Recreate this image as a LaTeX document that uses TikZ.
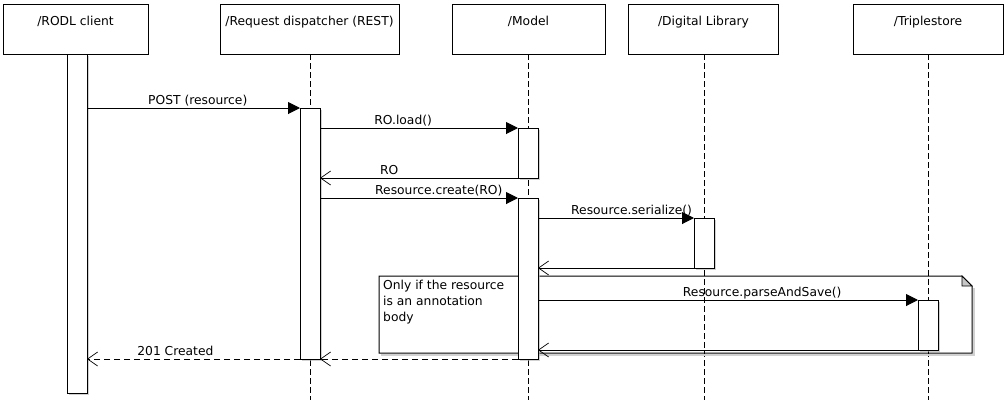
\documentclass[tikz,border=0pt]{standalone}
\usepackage{fontspec}
\setmainfont{DejaVu Sans}
\usetikzlibrary{arrows.meta,shadows}
\begin{document}
\begin{tikzpicture}[x=1pt,y=-1pt,
  every node/.style={font=\fontsize{12.3}{16}\selectfont},
  hdr/.style={draw, line width=1pt, minimum height=50pt, inner sep=0pt, outer sep=0pt},
  hlab/.style={anchor=base, yshift=-21pt, inner sep=0pt},
  act/.style={draw, fill=white, line width=1pt, minimum width=20pt, inner sep=0pt, outer sep=0pt, anchor=north,
    drop shadow={shadow xshift=2pt, shadow yshift=-2pt, fill=black!30, opacity=0.6}},
  life/.style={line width=0.9pt, dash pattern=on 6pt off 3pt},
  sync/.style={line width=1pt, -{Triangle[length=12pt,width=12pt]}},
  ret/.style={line width=1pt, -{Straight Barb[length=10pt,width=14pt,line width=0.7pt]}},
  retd/.style={ret, dash pattern=on 6pt off 4pt},
  mlab/.style={anchor=base, yshift=4pt, inner sep=0pt},
  shade/.style={fill=black!18}
]
\useasboundingbox (0,0) rectangle (1006,408);

% headers
\node[hdr, minimum width=145pt, label={[hlab]north:/RODL client}] (hc) at (75.5,29) {};
\node[hdr, minimum width=179pt, label={[hlab]north:/Request dispatcher (REST)}] (hd) at (309.5,29) {};
\node[hdr, minimum width=153pt, label={[hlab]north:/Model}] (hm) at (528.5,29) {};
\node[hdr, minimum width=150pt, label={[hlab]north:/Digital Library}] (hl) at (703.5,29) {};
\node[hdr, minimum width=150pt, label={[hlab]north:/Triplestore}] (ht) at (928,29) {};

% lifeline ends
\coordinate (ed) at (310,400);
\coordinate (em) at (528,400);
\coordinate (el) at (704,400);
\coordinate (et) at (928,400);
\draw[life] (hd.south -| ed) -- (ed);
\draw[life] (hm.south -| em) -- (em);
\draw[life] (hl.south -| el) -- (el);
\draw[life] (ht.south -| et) -- (et);

% note
\fill[shade] (972.5,288) rectangle (974.5,355.5);
\fill[shade] (381,353.5) rectangle (974.5,355.5);
\draw[line width=1pt] (379,276) -- (962,276) -- (972,286) -- (972,353) -- (379,353) -- cycle;
\filldraw[line width=0.8pt, fill=black!22] (962,276) -- (962,286) -- (972,286) -- cycle;
\node[anchor=north west, align=left, inner sep=0pt] (note) at (383,280)
  {Only if the resource\\is an annotation\\body};

% activations
\node[act, minimum height=339pt] (ac) at (77,54) {};
\node[act, minimum height=251pt] (ad) at (310,108) {};
\node[act, minimum height=50pt] (am1) at (528,128) {};
\node[act, minimum height=161pt] (am2) at (528,198) {};
\node[act, minimum height=50pt] (al) at (704,218) {};
\node[act, minimum height=50pt] (at) at (928,300) {};

% messages
\draw[sync] (ac.east |- ad.north) -- node[mlab, pos=0.52] {POST (resource)} (ad.north west);
\draw[sync] (ad.east |- am1.north) -- node[mlab, pos=0.42] {RO.load()} (am1.north west);
\draw[ret] (am1.south west) -- node[mlab, pos=0.65] {RO} (ad.east |- am1.south);
\draw[sync] (ad.east |- am2.north) -- node[mlab, pos=0.6] {Resource.create(RO)} (am2.north west);
\draw[sync] (am2.east |- al.north) -- node[mlab, pos=0.6] {Resource.serialize()} (al.north west);
\draw[ret] (al.south west) -- (am2.east |- al.south);
\draw[sync] (am2.east |- at.north) -- node[mlab, pos=0.59] {Resource.parseAndSave()} (at.north west);
\draw[ret] (at.south west) -- (am2.east |- at.south);
\draw[retd] (am2.south west) -- (ad.south east);
\draw[retd] (ad.south west) -- node[mlab, pos=0.585] {201 Created} (ac.east |- ad.south);
\end{tikzpicture}
\end{document}
